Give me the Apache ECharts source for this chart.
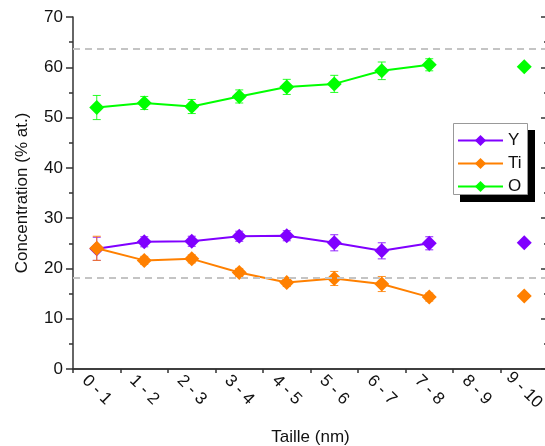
<!DOCTYPE html>
<html>
<head>
<meta charset="utf-8">
<script src="https://cdn.jsdelivr.net/npm/echarts@6/dist/echarts.min.js"></script>
<style>
html,body{margin:0;padding:0;background:#fff;}
#chart{width:545px;height:446px;}
</style>
</head>
<body>
<div id="chart"></div>
<script>
const categories = ['0 - 1','1 - 2','2 - 3','3 - 4','4 - 5','5 - 6','6 - 7','7 - 8','8 - 9','9 - 10'];
const yVals  = [23.9, 25.3, 25.4, 26.4, 26.5, 25.1, 23.5, 25.0, null, 25.1];
const tiVals = [24.0, 21.6, 21.9, 19.2, 17.2, 18.0, 16.9, 14.3, null, 14.5];
const oVals  = [52.0, 52.9, 52.2, 54.2, 56.1, 56.7, 59.3, 60.5, null, 60.1];
const yErr   = [2.3, 1.0, 1.0, 1.0, 1.0, 1.6, 1.6, 1.3, null, 0];
const tiErr  = [2.4, 0.8, 0.8, 0.8, 0.8, 1.4, 1.5, 0.8, null, 0];
const oErr   = [2.4, 1.3, 1.4, 1.3, 1.5, 1.7, 1.75, 1.2, null, 0];
const refLines = [63.6, 18.1];
const yTicks = {min: 0, max: 70, interval: 10};

const colors = {Y: '#8000ff', Ti: '#ff8000', O: '#00ff00'};
const FONT = 'Liberation Sans, Arial, sans-serif';

function errData(vals, errs) {
  const out = [];
  vals.forEach((v, i) => {
    if (v != null && errs[i]) out.push([i, v - errs[i], v + errs[i]]);
  });
  return out;
}
function errSeries(name, vals, errs, color, z) {
  return {
    type: 'custom',
    name: name + '_err',
    data: errData(vals, errs),
    encode: {x: 0, y: [1, 2]},
    z: z,
    silent: true,
    renderItem: function (params, api) {
      const lo = api.coord([api.value(0), api.value(1)]);
      const hi = api.coord([api.value(0), api.value(2)]);
      const w = 4;
      const st = {stroke: color, lineWidth: 1, opacity: 0.85};
      return {type: 'group', children: [
        {type: 'line', shape: {x1: lo[0], y1: lo[1], x2: hi[0], y2: hi[1]}, style: st},
        {type: 'line', shape: {x1: lo[0]-w, y1: lo[1], x2: lo[0]+w, y2: lo[1]}, style: st},
        {type: 'line', shape: {x1: hi[0]-w, y1: hi[1], x2: hi[0]+w, y2: hi[1]}, style: st}
      ]};
    }
  };
}
function lineSeries(name, vals, color, z, extra) {
  return Object.assign({
    type: 'line',
    name: name,
    data: vals,
    symbol: 'diamond',
    symbolSize: 15,
    showAllSymbol: true,
    connectNulls: false,
    z: z,
    itemStyle: {color: color},
    lineStyle: {color: color, width: 2},
    emphasis: {disabled: true}
  }, extra || {});
}

const chart = echarts.init(document.getElementById('chart'), null, {renderer: 'canvas'});
const axisLineStyle = {color: '#333', width: 1.5};
chart.setOption({
  animation: false,
  backgroundColor: '#fff',
  grid: {left: 73, top: 17, width: 475, height: 352, containLabel: false, outerBoundsMode: 'none'},
  graphic: [
    {type: 'rect', left: 460, top: 130, z: 20, silent: true,
      shape: {width: 75, height: 72}, style: {fill: '#000'}},
    {type: 'rect', left: 453, top: 123, z: 21, silent: true,
      shape: {width: 74, height: 71}, style: {fill: '#fff', stroke: '#999', lineWidth: 1}}
  ],
  legend: {
    orient: 'vertical',
    left: 453, top: 123,
    z: 30,
    data: ['Y', 'Ti', 'O'],
    itemWidth: 45, itemHeight: 14, itemGap: 6,
    padding: [9, 6, 3, 4],
    textStyle: {fontFamily: FONT, fontSize: 17, color: '#111'},
    selectedMode: false
  },
  xAxis: [{
    type: 'category',
    data: categories,
    boundaryGap: true,
    position: 'bottom',
    name: 'Taille (nm)',
    nameLocation: 'middle',
    nameGap: 60,
    nameTextStyle: {fontFamily: FONT, fontSize: 17, color: '#111'},
    axisLine: {show: true, lineStyle: axisLineStyle},
    axisTick: {show: true, inside: false, length: 4, interval: 0, lineStyle: axisLineStyle},
    axisLabel: {interval: 0, rotate: -45, margin: 21, align: 'center', verticalAlign: 'middle',
      fontFamily: FONT, fontSize: 17, color: '#111'},
    splitLine: {show: false}
  }, {
    type: 'category',
    data: categories,
    boundaryGap: true,
    position: 'top',
    axisLine: {show: true, lineStyle: axisLineStyle},
    axisTick: {show: true, inside: true, length: 3, interval: 0, lineStyle: axisLineStyle},
    axisLabel: {show: false},
    splitLine: {show: false}
  }],
  yAxis: [{
    type: 'value',
    min: yTicks.min, max: yTicks.max, interval: yTicks.interval,
    position: 'left',
    name: 'Concentration (% at.)',
    nameLocation: 'middle',
    nameGap: 42,
    nameTextStyle: {fontFamily: FONT, fontSize: 17, color: '#111'},
    axisLine: {show: true, lineStyle: axisLineStyle},
    axisTick: {show: true, inside: false, length: 7, lineStyle: axisLineStyle},
    minorTick: {show: true, splitNumber: 2, length: 4, lineStyle: axisLineStyle},
    axisLabel: {margin: 10, fontFamily: FONT, fontSize: 17, color: '#111'},
    splitLine: {show: false}
  }, {
    type: 'value',
    min: yTicks.min, max: yTicks.max, interval: yTicks.interval,
    position: 'right',
    axisLine: {show: true, lineStyle: axisLineStyle},
    axisTick: {show: true, inside: true, length: 7, lineStyle: axisLineStyle},
    minorTick: {show: true, splitNumber: 2, length: 4, lineStyle: axisLineStyle},
    axisLabel: {show: false},
    splitLine: {show: false}
  }],
  series: [
    errSeries('Y', yVals, yErr, colors.Y, 1),
    lineSeries('Y', yVals, colors.Y, 2),
    errSeries('Ti', tiVals, tiErr, colors.Ti, 3),
    lineSeries('Ti', tiVals, colors.Ti, 4),
    errSeries('O', oVals, oErr, colors.O, 3),
    lineSeries('O', oVals, colors.O, 4, {
      markLine: {
        silent: true,
        symbol: 'none',
        label: {show: false},
        lineStyle: {color: '#c4c4c4', width: 2, type: [7, 5]},
        data: refLines.map(v => ({yAxis: v}))
      }
    })
  ]
});
</script>
</body>
</html>
